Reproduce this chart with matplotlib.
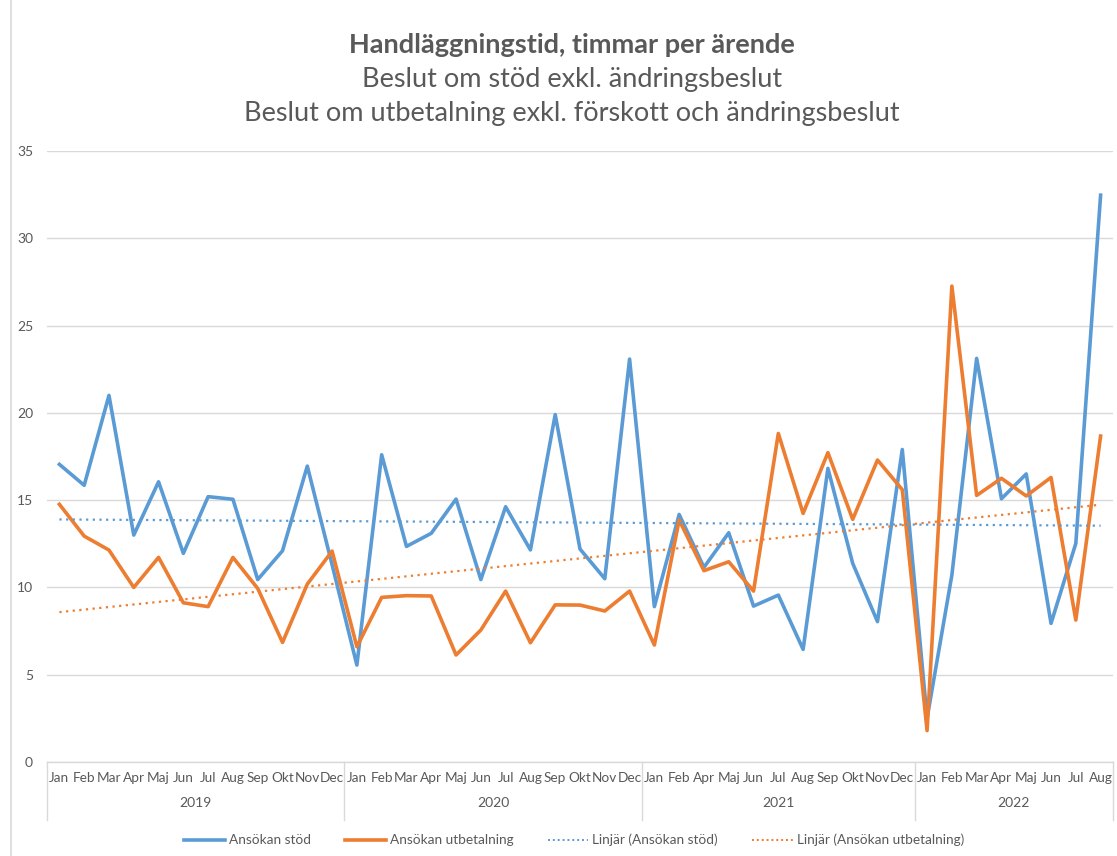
import matplotlib
matplotlib.use("Agg")
import matplotlib.pyplot as plt
import matplotlib.transforms as mtransforms
from matplotlib.lines import Line2D
import numpy as np

plt.rcParams['font.family'] = ['Lato', 'DejaVu Sans']

years = ["2019", "2020", "2021", "2022"]
months_2019 = ["Jan", "Feb", "Mar", "Apr", "Maj", "Jun", "Jul", "Aug", "Sep", "Okt", "Nov", "Dec"]
months_2020 = ["Jan", "Feb", "Mar", "Apr", "Maj", "Jun", "Jul", "Aug", "Sep", "Okt", "Nov", "Dec"]
months_2021 = ["Jan", "Feb", "Apr", "Maj", "Jun", "Jul", "Aug", "Sep", "Okt", "Nov", "Dec"]
months_2022 = ["Jan", "Feb", "Mar", "Apr", "Maj", "Jun", "Jul", "Aug"]
month_groups = [months_2019, months_2020, months_2021, months_2022]

ansokan_stod = [
    17.05, 15.85, 21.0, 13.0, 16.05, 11.95, 15.2, 15.05, 10.45, 12.1, 16.95, 11.3,
    5.55, 17.6, 12.35, 13.1, 15.06, 10.45, 14.62, 12.15, 19.9, 12.2, 10.5, 23.08,
    8.9, 14.18, 11.15, 13.13, 8.93, 9.56, 6.45, 16.82, 11.38, 8.04, 17.9,
    2.5, 10.7, 23.12, 15.08, 16.5, 7.94, 12.52, 32.47,
]
ansokan_utbetalning = [
    14.76, 12.94, 12.14, 10.0, 11.72, 9.12, 8.9, 11.72, 9.94, 6.85, 10.19, 12.08,
    6.6, 9.43, 9.53, 9.51, 6.13, 7.56, 9.79, 6.83, 9.0, 8.99, 8.65, 9.79,
    6.7, 13.86, 10.96, 11.47, 9.79, 18.82, 14.24, 17.72, 13.9, 17.3, 15.6,
    1.8, 27.26, 15.27, 16.25, 15.24, 16.3, 8.13, 18.67,
]

series_names = ["Ansökan stöd", "Ansökan utbetalning",
                "Linjär (Ansökan stöd)", "Linjär (Ansökan utbetalning)"]
title_lines = ["Handläggningstid, timmar per ärende",
               "Beslut om stöd exkl. ändringsbeslut",
               "Beslut om utbetalning exkl. förskott och ändringsbeslut"]

BLUE = "#5B9BD5"
ORANGE = "#ED7D31"
GRAY_TXT = "#595959"
GRID = "#D9D9D9"

month_labels = [m for g in month_groups for m in g]
n = len(month_labels)
x = np.arange(n)

fig = plt.figure(figsize=(11.17, 8.56), dpi=100)
ax = fig.add_axes([47/1117, 1 - 762/856, (1113 - 47)/1117, (762 - 151)/856])

# trend lines (linear least squares)
ts = np.polyfit(x + 1, ansokan_stod, 1)
tu = np.polyfit(x + 1, ansokan_utbetalning, 1)

ax.plot(x, ansokan_stod, color=BLUE, lw=2.6, solid_joinstyle='round', zorder=3)
ax.plot(x, ansokan_utbetalning, color=ORANGE, lw=2.6, solid_joinstyle='round', zorder=4)
ax.plot(x, np.polyval(ts, x + 1), color=BLUE, lw=1.6, linestyle=(0, (1, 2)), zorder=5)
ax.plot(x, np.polyval(tu, x + 1), color=ORANGE, lw=1.6, linestyle=(0, (1, 2)), zorder=5)

ax.set_xlim(-0.5, n - 0.5)
ax.set_ylim(0, 35)
ax.set_yticks(np.arange(0, 36, 5))
ax.yaxis.grid(True, color=GRID, lw=1.0)
ax.set_axisbelow(True)
for s in ["top", "right", "left"]:
    ax.spines[s].set_visible(False)
ax.spines["bottom"].set_color(GRID)
ax.spines["bottom"].set_linewidth(1.0)
ax.tick_params(axis='y', length=0, pad=10, labelsize=10, labelcolor=GRAY_TXT)
ax.set_xticks(x)
ax.set_xticklabels(month_labels)
ax.tick_params(axis='x', length=0, pad=7, labelsize=9.8, labelcolor=GRAY_TXT)

# year group labels and separators
trans = mtransforms.blended_transform_factory(ax.transData, ax.transAxes)
sep_len = (820 - 762) / (762 - 151)
start = 0
bounds = [-0.5]
for yr, g in zip(years, month_groups):
    end = start + len(g)
    ax.text((start + end - 1) / 2, -41 / (762 - 151), yr, transform=trans,
            ha='center', va='center', fontsize=10, color=GRAY_TXT)
    bounds.append(end - 0.5)
    start = end
for b in bounds:
    ax.add_line(Line2D([b, b], [0, -sep_len], transform=trans, color=GRID,
                       lw=1.0, clip_on=False))

# chart border line on the left
fig.add_artist(Line2D([11/1117, 11/1117], [0, 1], transform=fig.transFigure,
                      color=GRID, lw=1.2))

# titles
fig.text(0.512, 1 - 45/856, title_lines[0], ha='center', va='center',
         fontsize=19.5, fontweight='bold', color=GRAY_TXT)
fig.text(0.512, 1 - 79/856, title_lines[1], ha='center', va='center',
         fontsize=19.5, color=GRAY_TXT)
fig.text(0.512, 1 - 113/856, title_lines[2], ha='center', va='center',
         fontsize=19.5, color=GRAY_TXT)

handles = [
    Line2D([], [], color=BLUE, lw=2.6),
    Line2D([], [], color=ORANGE, lw=2.6),
    Line2D([], [], color=BLUE, lw=1.4, linestyle=(0, (1, 1.5))),
    Line2D([], [], color=ORANGE, lw=1.4, linestyle=(0, (1, 1.5))),
]
fig.legend(handles, series_names, loc='center', bbox_to_anchor=(0.514, 1 - 840/856),
           ncol=4, frameon=False, fontsize=9.8, labelcolor=GRAY_TXT,
           handlelength=3.0, handletextpad=0.3, columnspacing=2.5)

fig.savefig("out.png", dpi=100, facecolor="white")
